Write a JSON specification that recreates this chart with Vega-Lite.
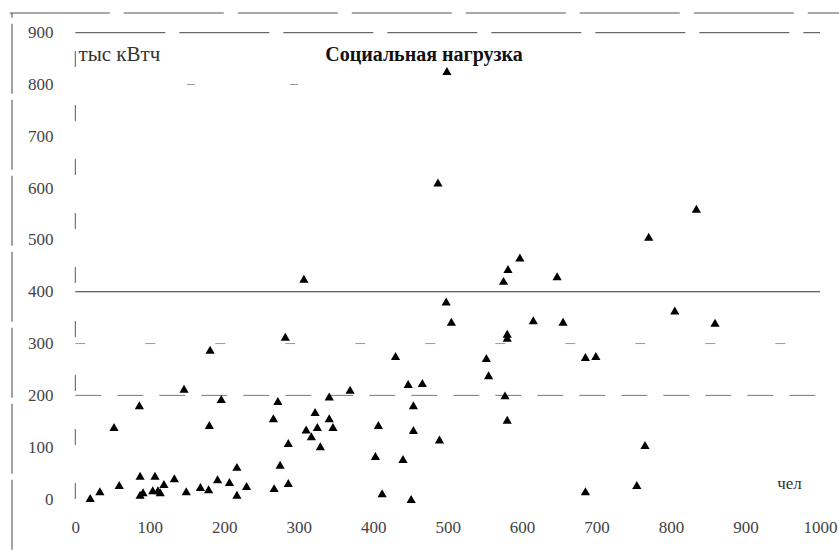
{
  "$schema": "https://vega.github.io/schema/vega-lite/v6.json",
  "width": 808,
  "height": 486,
  "autosize": "none",
  "padding": {"left": 12, "top": 13, "right": 19, "bottom": 51},
  "background": "white",
  "config": {"view": {"stroke": null}, "font": "Liberation Serif"},
  "title": {"text": "Социальная нагрузка", "orient": "top", "anchor": "middle", "offset": -69, "baseline": "alphabetic", "fontSize": 20, "fontWeight": "bold", "font": "Liberation Serif", "color": "#111", "dx": 8},
  "datasets": {
    "points": [
      {"people": 20, "load": 2}, {"people": 33, "load": 15}, {"people": 59, "load": 27}, {"people": 52, "load": 139},
      {"people": 86, "load": 181}, {"people": 87, "load": 45}, {"people": 87, "load": 8}, {"people": 91, "load": 13},
      {"people": 104, "load": 17}, {"people": 107, "load": 45}, {"people": 111, "load": 17}, {"people": 114, "load": 13},
      {"people": 119, "load": 29}, {"people": 133, "load": 40}, {"people": 146, "load": 213}, {"people": 149, "load": 15},
      {"people": 168, "load": 23}, {"people": 179, "load": 19}, {"people": 180, "load": 143}, {"people": 181, "load": 288},
      {"people": 191, "load": 38}, {"people": 196, "load": 193}, {"people": 207, "load": 33}, {"people": 217, "load": 62},
      {"people": 217, "load": 8}, {"people": 230, "load": 25}, {"people": 266, "load": 156}, {"people": 267, "load": 21},
      {"people": 272, "load": 189}, {"people": 275, "load": 66}, {"people": 282, "load": 313}, {"people": 286, "load": 108},
      {"people": 286, "load": 31}, {"people": 307, "load": 425}, {"people": 310, "load": 134}, {"people": 317, "load": 121},
      {"people": 322, "load": 168}, {"people": 325, "load": 139}, {"people": 329, "load": 102}, {"people": 341, "load": 198},
      {"people": 341, "load": 156}, {"people": 346, "load": 139}, {"people": 369, "load": 211}, {"people": 403, "load": 83},
      {"people": 407, "load": 143}, {"people": 412, "load": 11}, {"people": 430, "load": 276}, {"people": 440, "load": 77},
      {"people": 447, "load": 222}, {"people": 451, "load": 0}, {"people": 454, "load": 181}, {"people": 454, "load": 133},
      {"people": 466, "load": 224}, {"people": 487, "load": 611}, {"people": 489, "load": 115}, {"people": 498, "load": 381},
      {"people": 499, "load": 826}, {"people": 505, "load": 342}, {"people": 552, "load": 272}, {"people": 555, "load": 239},
      {"people": 575, "load": 421}, {"people": 577, "load": 200}, {"people": 580, "load": 319}, {"people": 580, "load": 311},
      {"people": 580, "load": 153}, {"people": 581, "load": 444}, {"people": 597, "load": 466}, {"people": 615, "load": 345},
      {"people": 647, "load": 430}, {"people": 655, "load": 342}, {"people": 685, "load": 274}, {"people": 685, "load": 15},
      {"people": 699, "load": 276}, {"people": 754, "load": 27}, {"people": 765, "load": 104}, {"people": 770, "load": 506},
      {"people": 805, "load": 364}, {"people": 834, "load": 560}, {"people": 859, "load": 340}
    ]
  },
  "layer": [
    {
      "data": {"values": [{"people": -85, "load": -98, "load2": 938}]},
      "mark": {"type": "rule", "color": "#666", "strokeWidth": 1.2, "strokeDash": [70, 6]},
      "encoding": {"x": {"field": "people", "type": "quantitative"}, "y": {"field": "load", "type": "quantitative"}, "y2": {"field": "load2"}}
    },
    {
      "data": {"values": [{"people": -88, "people2": 1030, "load": 938}]},
      "mark": {"type": "rule", "color": "#555", "strokeWidth": 1.2, "strokeDash": [100, 14]},
      "encoding": {"x": {"field": "people", "type": "quantitative"}, "x2": {"field": "people2"}, "y": {"field": "load", "type": "quantitative"}}
    },
    {
      "data": {"values": [{"people": 0, "load": 0, "load2": 870}]},
      "mark": {"type": "rule", "color": "#555", "strokeWidth": 1, "strokeDash": [16, 38]},
      "encoding": {"x": {"field": "people", "type": "quantitative"}, "y": {"field": "load", "type": "quantitative"}, "y2": {"field": "load2"}}
    },
    {
      "data": {"values": [{"people": 0, "people2": 1000, "load": 900}]},
      "mark": {"type": "rule", "color": "#444", "strokeWidth": 1, "strokeDash": [90, 14]},
      "encoding": {"x": {"field": "people", "type": "quantitative"}, "x2": {"field": "people2"}, "y": {"field": "load", "type": "quantitative"}}
    },
    {
      "data": {"values": [{"people": 0, "people2": 1000, "load": 400}]},
      "mark": {"type": "rule", "color": "#333", "strokeWidth": 1},
      "encoding": {"x": {"field": "people", "type": "quantitative"}, "x2": {"field": "people2"}, "y": {"field": "load", "type": "quantitative"}}
    },
    {
      "data": {"values": [{"people": 0, "people2": 1000, "load": 200}]},
      "mark": {"type": "rule", "color": "#777", "strokeWidth": 1, "strokeDash": [26, 16]},
      "encoding": {"x": {"field": "people", "type": "quantitative"}, "x2": {"field": "people2"}, "y": {"field": "load", "type": "quantitative"}}
    },
    {
      "data": {"values": [{"people": 0, "people2": 1000, "load": 300}]},
      "mark": {"type": "rule", "color": "#999", "strokeWidth": 1, "strokeDash": [10, 60]},
      "encoding": {"x": {"field": "people", "type": "quantitative"}, "x2": {"field": "people2"}, "y": {"field": "load", "type": "quantitative"}}
    },
    {
      "data": {"values": [{"people": 150, "people2": 400, "load": 800}]},
      "mark": {"type": "rule", "color": "#999", "strokeWidth": 1, "strokeDash": [8, 95]},
      "encoding": {"x": {"field": "people", "type": "quantitative"}, "x2": {"field": "people2"}, "y": {"field": "load", "type": "quantitative"}}
    },
    {
      "data": {"name": "points"},
      "mark": {"type": "point", "shape": "triangle-up", "filled": true, "color": "#000", "opacity": 1, "size": 85},
      "encoding": {
        "x": {
          "field": "people", "type": "quantitative",
          "scale": {"domain": [-85, 1000], "nice": false, "zero": false},
          "axis": {"values": [0, 100, 200, 300, 400, 500, 600, 700, 800, 900, 1000], "format": "d", "grid": false, "domain": false, "ticks": false, "labelPadding": 20, "labelFont": "Liberation Serif", "labelFontSize": 17, "labelColor": "#444", "labelFlush": false,
            "title": "чел", "titleFont": "Liberation Serif", "titleFontSize": 17, "titleFontWeight": "normal", "titleColor": "#333", "titleX": 777, "titleY": -11, "titleAlign": "center", "titleBaseline": "alphabetic"}
        },
        "y": {
          "field": "load", "type": "quantitative",
          "scale": {"domain": [0, 938], "nice": false, "zero": false},
          "axis": {"values": [0, 100, 200, 300, 400, 500, 600, 700, 800, 900], "grid": false, "domain": false, "ticks": false, "offset": -63, "labelPadding": 22, "labelFont": "Liberation Serif", "labelFontSize": 17, "labelColor": "#444",
            "title": "тыс кВтч", "titleFont": "Liberation Serif", "titleFontSize": 21, "titleFontWeight": "normal", "titleColor": "#333", "titleAngle": 0, "titleX": 3, "titleY": 47, "titleAlign": "left", "titleBaseline": "alphabetic"}
        }
      }
    }
  ]
}
